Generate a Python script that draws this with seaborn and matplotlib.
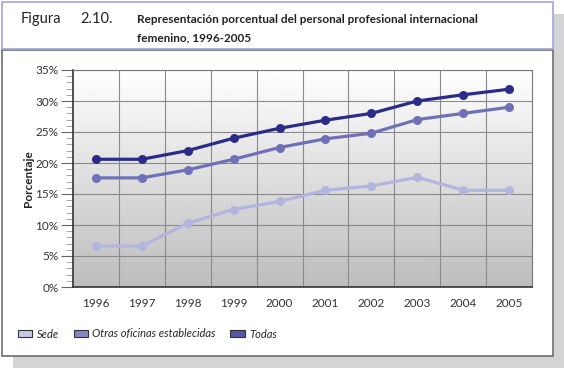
import numpy as np
import pandas as pd
import matplotlib
matplotlib.use("Agg")
import matplotlib.pyplot as plt
import seaborn as sns
from matplotlib.patches import Rectangle, Patch
from matplotlib.ticker import MultipleLocator, FuncFormatter

years = [1996, 1997, 1998, 1999, 2000, 2001, 2002, 2003, 2004, 2005]
sede = [6.6, 6.6, 10.3, 12.5, 13.8, 15.6, 16.3, 17.7, 15.6, 15.6]
otras = [17.6, 17.6, 18.9, 20.6, 22.5, 23.9, 24.8, 27.0, 28.0, 29.0]
todas = [20.6, 20.6, 22.0, 24.0, 25.6, 26.9, 28.0, 30.0, 31.0, 31.9]
series_names = ["Sede", "Otras oficinas establecidas", "Todas"]
line_colors = ["#b3b5df", "#7070b8", "#2b2b8a"]
legend_colors = ["#c6c9e8", "#8487c6", "#5558a6"]

df = pd.DataFrame({"Año": years * 3,
                   "Porcentaje": sede + otras + todas,
                   "Serie": [s for s in series_names for _ in years]})

sns.set_style("white")
plt.rcParams["font.family"] = ["Lato", "DejaVu Sans"]

W, H = 564, 368
fig = plt.figure(figsize=(W / 100, H / 100), dpi=100)

def px(x, y, w, h):
    return [x / W, 1 - (y + h) / H, w / W, h / H]

# frame with shadow
fig.patches.append(Rectangle((13 / W, 0), 1 - 13 / W, 1 - 14 / H, transform=fig.transFigure,
                             facecolor="#d3d4d5", edgecolor="none", zorder=-3))
fig.patches.append(Rectangle((1.5 / W, 1 - 356 / H), 551 / W, 306 / H, transform=fig.transFigure,
                             facecolor="white", edgecolor="#6e6e6e", lw=1.2, zorder=-2))
fig.patches.append(Rectangle((1.5 / W, 1 - 49 / H), 551 / W, 47.5 / H, transform=fig.transFigure,
                             facecolor="white", edgecolor="#a4a4da", lw=1.2, zorder=-1))

fig.text(21 / W, 1 - 23 / H, "Figura", fontsize=10.5, color="#222222")
fig.text(80 / W, 1 - 23 / H, "2.10.", fontsize=10.5, color="#222222")
fig.text(137 / W, 1 - 23 / H, "Representación porcentual del personal profesional internacional",
         fontsize=8.5, fontweight="bold", color="#222222")
fig.text(137 / W, 1 - 41 / H, "femenino, 1996-2005", fontsize=8.5, fontweight="bold", color="#222222")

ax = fig.add_axes(px(73, 70, 459, 217))
grad = np.linspace(0.74, 1.0, 256).reshape(-1, 1)
ax.imshow(grad, cmap="gray", vmin=0, vmax=1, aspect="auto",
          extent=[1995.5, 2005.5, 35, 0], zorder=0)

sns.lineplot(data=df, x="Año", y="Porcentaje", hue="Serie", hue_order=series_names,
             palette=line_colors, marker="o", markersize=6.5, markeredgewidth=0,
             linewidth=2.3, legend=False, ax=ax, zorder=3)

ax.set_xlim(1995.5, 2005.5)
ax.set_ylim(0, 35)
ax.set_xticks(years)
ax.set_xticklabels([str(y) for y in years])
ax.set_xticks(np.arange(1996.5, 2005.5, 1), minor=True)
ax.yaxis.set_major_locator(MultipleLocator(5))
ax.yaxis.set_minor_locator(MultipleLocator(1))
ax.yaxis.set_major_formatter(FuncFormatter(lambda v, p: f"{int(v)}%"))
ax.grid(True, which="minor", axis="x", color="#8a8a8a", lw=0.8)
ax.grid(True, which="major", axis="y", color="#8a8a8a", lw=0.8)
ax.set_axisbelow(True)
ax.tick_params(axis="x", which="both", length=0, pad=8, labelsize=8.5, labelcolor="#333333")
ax.tick_params(axis="y", which="major", length=9, width=0.8, color="#666666", pad=1.5,
               labelsize=8.5, labelcolor="#333333", left=True)
ax.tick_params(axis="y", which="minor", length=5, width=0.6, color="#999999", left=True)
for s in ax.spines.values():
    s.set_color("#777777")
    s.set_linewidth(0.8)
ax.spines["left"].set_color("#333333")
ax.spines["bottom"].set_color("#333333")
ax.spines["left"].set_linewidth(1.2)
ax.spines["bottom"].set_linewidth(1.2)
ax.set_xlabel("")
ax.set_ylabel("Porcentaje", fontsize=8.5, fontweight="bold", color="#222222")
ax.yaxis.set_label_coords(-0.085, 0.5)

handles = [Patch(facecolor=c, edgecolor="#333333", lw=0.8) for c in legend_colors]
fig.legend(handles, series_names, loc="center left", bbox_to_anchor=(8 / W, 1 - 334 / H),
           ncol=3, frameon=False, prop={"style": "italic", "size": 8},
           handlelength=1.3, handleheight=0.6, handletextpad=0.4, columnspacing=1.3)

fig.savefig("out.png", dpi=100)
